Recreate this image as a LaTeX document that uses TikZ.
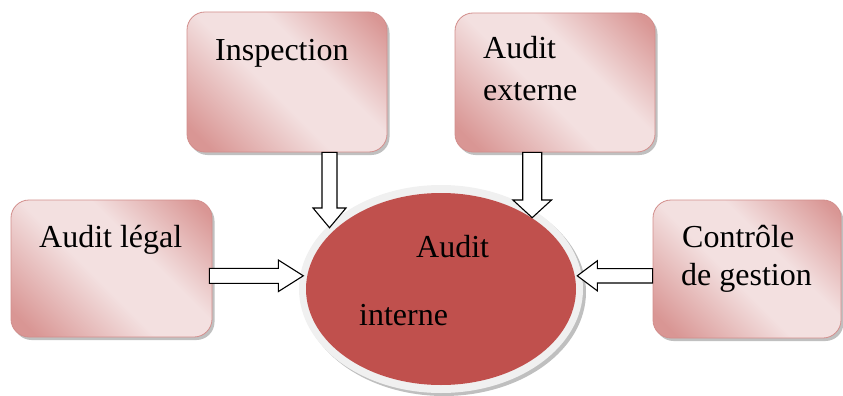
\documentclass[tikz,border=0pt]{standalone}
\usepackage{fontspec}
\setmainfont{Liberation Serif}
\usetikzlibrary{shadows,calc,shapes.geometric}

\definecolor{boxdark}{HTML}{D99694}
\definecolor{boxlight}{HTML}{F3E0E0}
\definecolor{boxline}{HTML}{D28E8C}
\definecolor{corered}{HTML}{C0504D}
\definecolor{rimgray}{HTML}{F0F0F0}

\pgfdeclarehorizontalshading{boxshade}{100bp}{color(0bp)=(boxdark); color(20bp)=(boxdark); color(45bp)=(boxlight); color(60bp)=(boxlight); color(82bp)=(boxdark); color(100bp)=(boxdark)}

% block arrows: start, tip, half shaft width, half head width, head length
\newcommand\downblock[5]{%
  \draw[barrow] let \p1=(#1), \p2=(#2) in
    (\x2-#3,\y1) -- (\x2-#3,\y2+#5) -- (\x2-#4,\y2+#5) -- (\x2,\y2)
    -- (\x2+#4,\y2+#5) -- (\x2+#3,\y2+#5) -- (\x2+#3,\y1) -- cycle;}
\newcommand\rightblock[5]{%
  \draw[barrow] let \p1=(#1), \p2=(#2) in
    (\x1,\y2+#3) -- (\x2-#5,\y2+#3) -- (\x2-#5,\y2+#4) -- (\x2,\y2)
    -- (\x2-#5,\y2-#4) -- (\x2-#5,\y2-#3) -- (\x1,\y2-#3) -- cycle;}
\newcommand\leftblock[5]{%
  \draw[barrow] let \p1=(#1), \p2=(#2) in
    (\x1,\y2+#3) -- (\x2+#5,\y2+#3) -- (\x2+#5,\y2+#4) -- (\x2,\y2)
    -- (\x2+#5,\y2-#4) -- (\x2+#5,\y2-#3) -- (\x1,\y2-#3) -- cycle;}

\begin{document}
\begin{tikzpicture}[x=1pt,y=-1pt,
  box/.style={rectangle, rounded corners=18pt, draw=boxline, line width=0.8pt,
    shading=boxshade, shading angle=45, inner sep=0pt,
    drop shadow={shadow xshift=2.5pt, shadow yshift=-3pt, fill=black!45, opacity=0.55}},
  lbl/.style={anchor=base west, inner sep=0pt, font=\fontsize{32}{38}\selectfont},
  barrow/.style={draw=black, fill=white, line width=1.1pt, line join=miter}]

\useasboundingbox (0,0) rectangle (843,396);

% surrounding boxes
\node[box, minimum width=200pt, minimum height=140pt] (insp) at (287,82) {};
\node[box, minimum width=200pt, minimum height=139pt] (ext) at (555,82.5) {};
\node[box, minimum width=201pt, minimum height=137pt] (legal) at (111.5,268.5) {};
\node[box, minimum width=188pt, minimum height=138pt] (ctrl) at (747,269) {};

% central ellipse with light rim
\node[ellipse, fill=rimgray, inner sep=0pt, minimum width=284pt, minimum height=208pt,
  drop shadow={shadow xshift=3pt, shadow yshift=-3pt, fill=black!50, opacity=0.5}] (rim) at (441,289) {};
\node[ellipse, fill=corered, inner sep=0pt, minimum width=270pt, minimum height=192pt] (core) at (441,289) {};

% arrow tips on the rim
\coordinate (tipI) at (329.5,227.7);
\coordinate (tipE) at (532.2,217.7);
\coordinate (tipL) at (303.3,275.8);
\coordinate (tipC) at (577.3,275.8);
\coordinate (startL) at ($(legal.east)+(-3,0)$);

\downblock{insp.south}{tipI}{7.5pt}{16.5pt}{19.7pt}
\downblock{ext.south}{tipE}{9.5pt}{19.3pt}{17.7pt}
\rightblock{startL}{tipL}{7.5pt}{15.8pt}{25pt}
\leftblock{ctrl.west}{tipC}{7.2pt}{15pt}{20pt}

% labels
\node[lbl] (tinsp) at (215,60) {Inspection};
\node[lbl] (text1) at (483,59) {Audit};
\node[lbl] (text2) at (483,100) {externe};
\node[lbl] (tlegal) at (39,247) {Audit légal};
\node[lbl] (tctrl1) at (682,247) {Contrôle};
\node[lbl] (tctrl2) at (681,285) {de gestion};
\node[lbl] (tcore1) at (416,257) {Audit};
\node[lbl] (tcore2) at (359,325) {interne};
\end{tikzpicture}
\end{document}
